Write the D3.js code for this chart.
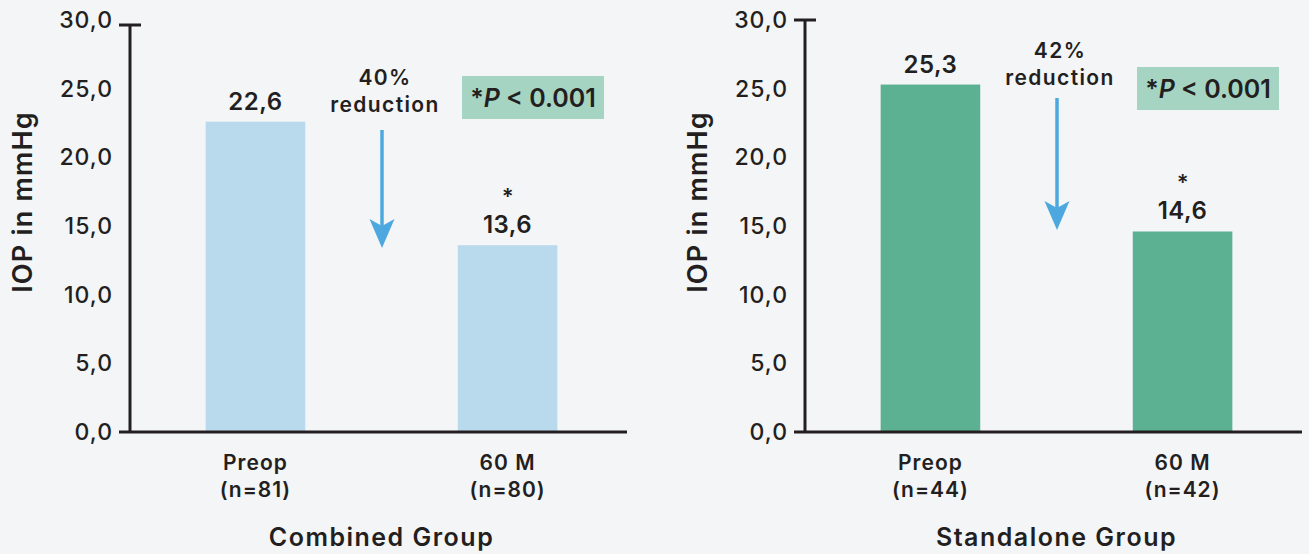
<!DOCTYPE html>
<html>
<head>
<meta charset="utf-8">
<script src="https://cdn.jsdelivr.net/npm/d3@7"></script>
<style>
    body { margin: 0; background: #f4f5f7; }
    svg { display: block; font-family: Inter, "Noto Sans", sans-serif; }
</style>
</head>
<body>
<svg id="chart" width="1309" height="554"></svg>
<script>
// ----- data
const categories = ['Preop', '60 M'];
const combinedValues = [22.6, 13.6];
const combinedN = ['(n=81)', '(n=80)'];
const standaloneValues = [25.3, 14.6];
const standaloneN = ['(n=44)', '(n=42)'];
const yTicks = [0, 5, 10, 15, 20, 25, 30];
const significant = [false, true];

const panels = [
    { title: 'Combined Group', values: combinedValues, n: combinedN, reduction: '40%',
      color: '#b9d9ed', x0: 130, capOffset: 5, arrowTop: 130, arrowTip: 248, textTop: 85, boxY: 76 },
    { title: 'Standalone Group', values: standaloneValues, n: standaloneN, reduction: '42%',
      color: '#5cb192', x0: 805, capOffset: 0, arrowTop: 98, arrowTip: 230, textTop: 58, boxY: 67 },
];

const locale = d3.formatLocale({ decimal: ',', thousands: '.', grouping: [3], currency: ['', ''] });
const fmt = locale.format('.1f');

const svg = d3.select('#chart');
const ink = '#231f20';
const y = d3.scaleLinear().domain([0, 30]).range([432, 20]);

panels.forEach(p => {
    const g = svg.append('g');
    const x = d3.scaleBand()
        .domain(categories)
        .range([p.x0, p.x0 + 503])
        .paddingInner(0.605)
        .paddingOuter(0.3);

    // ----- bars
    g.selectAll('rect.bar')
        .data(p.values)
        .enter()
        .append('rect')
        .attr('class', 'bar')
        .attr('x', (d, i) => x(categories[i]))
        .attr('y', d => y(d))
        .attr('width', x.bandwidth())
        .attr('height', d => y(0) - y(d))
        .attr('fill', p.color);

    // value labels
    g.selectAll('text.val')
        .data(p.values)
        .enter()
        .append('text')
        .attr('class', 'val')
        .attr('x', (d, i) => x(categories[i]) + x.bandwidth() / 2)
        .attr('y', d => y(d) - 12)
        .attr('text-anchor', 'middle')
        .attr('font-size', 24)
        .attr('font-weight', 600)
        .attr('letter-spacing', 0.5)
        .attr('fill', ink)
        .text(d => fmt(d));

    // significance star sits above the value label
    g.selectAll('text.star')
        .data(p.values)
        .enter()
        .filter((d, i) => significant[i])
        .append('text')
        .attr('class', 'star')
        .attr('x', (d, i) => x(categories[1]) + x.bandwidth() / 2)
        .attr('y', d => y(d) - 41)
        .attr('text-anchor', 'middle')
        .attr('font-size', 22)
        .attr('font-weight', 600)
        .attr('fill', ink)
        .text('*');

    // ----- y axis labels
    const yAxis = d3.axisLeft(y)
        .tickValues(yTicks)
        .tickFormat(fmt)
        .tickSize(0)
        .tickPadding(17);
    const ga = g.append('g')
        .attr('transform', `translate(${p.x0},0)`)
        .call(yAxis);
    ga.select('.domain').remove();
    ga.selectAll('text')
        .attr('font-family', 'Inter, sans-serif')
        .attr('font-size', 23)
        .attr('font-weight', 500)
        .attr('letter-spacing', 1)
        .attr('fill', ink);

    // axis lines
    const top = y(30) + p.capOffset;
    g.append('line')
        .attr('x1', p.x0).attr('x2', p.x0)
        .attr('y1', top).attr('y2', y(0))
        .attr('stroke', ink).attr('stroke-width', 3);
    g.append('line')
        .attr('x1', p.x0 - 11).attr('x2', p.x0 + 11)
        .attr('y1', top).attr('y2', top)
        .attr('stroke', ink).attr('stroke-width', 3);
    g.append('line')
        .attr('x1', p.x0 - 11).attr('x2', p.x0 + 497)
        .attr('y1', y(0)).attr('y2', y(0))
        .attr('stroke', ink).attr('stroke-width', 3);

    g.append('text')
        .attr('transform', `translate(${p.x0 - 98},${202}) rotate(-90)`)
        .attr('text-anchor', 'middle')
        .attr('font-size', 27)
        .attr('font-weight', 600)
        .attr('letter-spacing', 1.2)
        .attr('fill', ink)
        .text('IOP in mmHg');

    // ----- category labels
    const cat = g.selectAll('text.cat')
        .data(categories)
        .enter()
        .append('text')
        .attr('class', 'cat')
        .attr('x', d => x(d) + x.bandwidth() / 2)
        .attr('text-anchor', 'middle')
        .attr('font-size', 21)
        .attr('font-weight', 600)
        .attr('letter-spacing', 1)
        .attr('fill', ink);
    cat.append('tspan').attr('y', 470).text(d => d);
    cat.append('tspan')
        .attr('x', d => x(d) + x.bandwidth() / 2)
        .attr('y', 497)
        .text((d, i) => p.n[i]);

    const mid = (x(categories[0]) + x(categories[1]) + x.bandwidth()) / 2;
    g.append('text')
        .attr('x', mid)
        .attr('y', 546)
        .attr('text-anchor', 'middle')
        .attr('font-size', 25)
        .attr('font-weight', 600)
        .attr('letter-spacing', 1.5)
        .attr('fill', ink)
        .text(p.title);

    // ----- reduction arrow
    const ax = p.x0 + 252;
    g.append('text')
        .attr('x', ax + 3)
        .attr('text-anchor', 'middle')
        .attr('font-size', 21)
        .attr('font-weight', 600)
        .attr('letter-spacing', 1.4)
        .attr('fill', ink)
        .call(t => t.append('tspan').attr('y', p.textTop).text(p.reduction))
        .call(t => t.append('tspan').attr('x', ax + 3).attr('y', p.textTop + 27).text('reduction'));
    g.append('line')
        .attr('x1', ax).attr('x2', ax)
        .attr('y1', p.arrowTop).attr('y2', p.arrowTip - 20)
        .attr('stroke', '#4ca8de').attr('stroke-width', 3.5);
    g.append('path')
        .attr('d', `M${ax},${p.arrowTip} L${ax - 12.5},${p.arrowTip - 29} L${ax},${p.arrowTip - 22} L${ax + 12.5},${p.arrowTip - 29} Z`)
        .attr('fill', '#4ca8de');

    // ----- p value box
    const bx = p.x0 + 332;
    g.append('rect')
        .attr('x', bx).attr('y', p.boxY)
        .attr('width', 142).attr('height', 43)
        .attr('fill', '#a6d4c2');
    const pt = g.append('text')
        .attr('x', bx + 71)
        .attr('y', p.boxY + 31)
        .attr('text-anchor', 'middle')
        .attr('font-size', 25)
        .attr('font-weight', 600)
        .attr('fill', ink);
    pt.append('tspan').text('*');
    pt.append('tspan').attr('font-style', 'italic').text('P');
    pt.append('tspan').text(' < 0.001');
});
</script>
</body>
</html>
